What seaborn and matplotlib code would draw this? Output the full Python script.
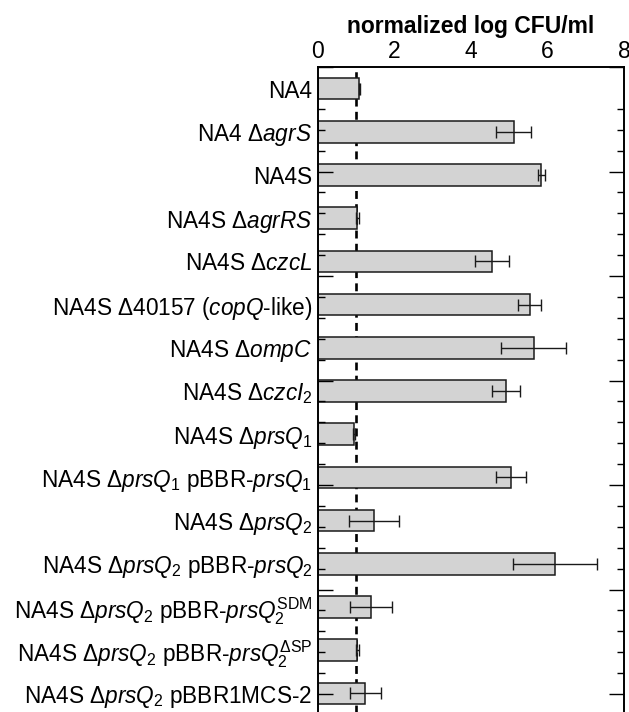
import numpy as np
import pandas as pd
import matplotlib
matplotlib.use("Agg")
import matplotlib.pyplot as plt
import seaborn as sns

# Strains (mathtext for italics / sub- and superscripts)
strains = [
    "NA4",
    r"NA4 Δ$\mathit{agrS}$",
    "NA4S",
    r"NA4S Δ$\mathit{agrRS}$",
    r"NA4S Δ$\mathit{czcL}$",
    r"NA4S Δ40157 ($\mathit{copQ}$-like)",
    r"NA4S Δ$\mathit{ompC}$",
    r"NA4S Δ$\mathit{czcI}_{2}$",
    r"NA4S Δ$\mathit{prsQ}_{\mathit{1}}$",
    r"NA4S Δ$\mathit{prsQ}_{\mathit{1}}$ pBBR-$\mathit{prsQ}_{\mathit{1}}$",
    r"NA4S Δ$\mathit{prsQ}_{2}$",
    r"NA4S Δ$\mathit{prsQ}_{2}$ pBBR-$\mathit{prsQ}_{2}$",
    r"NA4S Δ$\mathit{prsQ}_{2}$ pBBR-$\mathit{prsQ}_{2}^{\mathrm{SDM}}$",
    r"NA4S Δ$\mathit{prsQ}_{2}$ pBBR-$\mathit{prsQ}_{2}^{\mathrm{ΔSP}}$",
    r"NA4S Δ$\mathit{prsQ}_{2}$ pBBR1MCS-2",
]
log_cfu = [1.08, 5.12, 5.84, 1.03, 4.55, 5.54, 5.64, 4.91, 0.94, 5.05, 1.46, 6.19, 1.38, 1.03, 1.24]
err = [0.02, 0.46, 0.09, 0.03, 0.45, 0.30, 0.85, 0.37, 0.02, 0.40, 0.66, 1.10, 0.55, 0.03, 0.40]

df = pd.DataFrame({"strain": strains, "value": log_cfu, "err": err})

sns.set_style("white")
plt.rcParams["font.family"] = ["Liberation Sans", "DejaVu Sans"]
plt.rcParams["mathtext.fontset"] = "custom"
plt.rcParams["mathtext.rm"] = "Liberation Sans"
plt.rcParams["mathtext.it"] = "Liberation Sans:italic"
plt.rcParams["mathtext.bf"] = "Liberation Sans:bold"
plt.rcParams["text.color"] = "black"
plt.rcParams["xtick.color"] = "black"
plt.rcParams["ytick.color"] = "black"
plt.rcParams["axes.labelcolor"] = "black"

fig = plt.figure(figsize=(6.29, 7.12), dpi=100)
ax = fig.add_axes([318 / 629, -3 / 712, 306 / 629, 648 / 712])

# reference line at 1 sits behind the bars
ax.axvline(1, color="black", lw=1.9, dashes=(3.0, 2.0), zorder=1)
sns.barplot(data=df, x="value", y="strain", color="#d3d3d3", edgecolor="#1a1a1a",
            linewidth=1.1, width=0.5, saturation=1, ax=ax, zorder=2)
ax.errorbar(df["value"], np.arange(len(df)), xerr=df["err"], fmt="none",
            ecolor="#1a1a1a", elinewidth=1.0, capsize=4.5, capthick=1.0, zorder=4)

ax.set_xlim(0, 8)
ax.set_ylim(14.5, -0.5)
ax.set_xticks([0, 2, 4, 6, 8])

# tick marks on both sides: long every 2.5 rows, short every half row
ax2 = ax.twinx()
ax2.set_ylim(ax.get_ylim())
ax2.set_yticks(np.arange(-1, 15, 2.5))
ax2.set_yticks(np.arange(0, 15.0, 0.5), minor=True)
ax2.tick_params(axis="y", which="major", direction="in", length=11, width=1,
                left=True, right=True, labelleft=False, labelright=False)
ax2.tick_params(axis="y", which="minor", direction="in", length=5, width=1,
                left=True, right=True, labelleft=False, labelright=False)

ax.set_axisbelow(False)
ax.xaxis.set_ticks_position("top")
ax.xaxis.set_label_position("top")
ax.set_xlabel("normalized log CFU/ml", fontsize=16.5, fontweight="bold", labelpad=5)
ax.set_ylabel("")
ax.tick_params(axis="x", length=0, pad=3, labelsize=16.5)
ax.tick_params(axis="y", which="both", length=0, left=False, right=False,
               labelleft=True, labelright=False, labelsize=16.3, pad=4)

for a in (ax, ax2):
    for s in a.spines.values():
        s.set_linewidth(1.2)
        s.set_color("black")

fig.savefig("out.png", dpi=100)
